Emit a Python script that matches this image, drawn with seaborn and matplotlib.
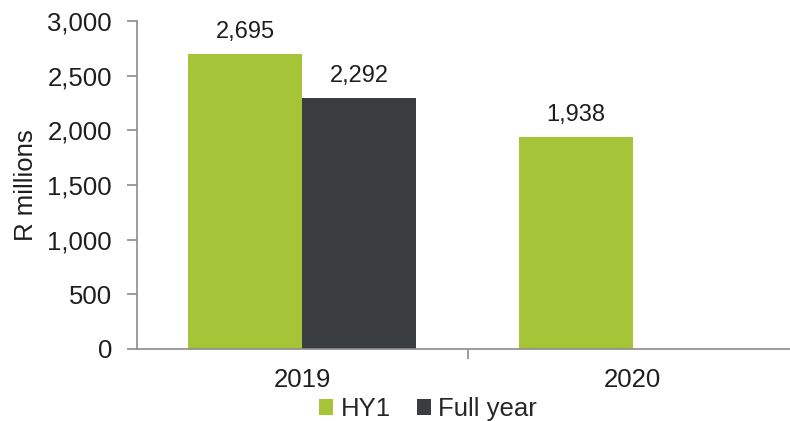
import matplotlib
matplotlib.use("Agg")
import matplotlib.pyplot as plt
import seaborn as sns
import pandas as pd
import numpy as np
from matplotlib.patches import Patch

years = ["2019", "2020"]
periods = ["HY1", "Full year"]
hy1_values = [2695, 1938]
full_year_values = [2292, np.nan]
y_ticks = [0, 500, 1000, 1500, 2000, 2500, 3000]

colors = {"HY1": "#A6C437", "Full year": "#3A3D40"}

df = pd.DataFrame({
    "year": years * 2,
    "period": ["HY1"] * len(years) + ["Full year"] * len(years),
    "value": hy1_values + full_year_values,
})

sns.set_style("white")
plt.rcParams["font.family"] = ["Liberation Sans", "DejaVu Sans"]

fig = plt.figure(figsize=(7.9, 4.21), dpi=100)
ax = fig.add_axes([137 / 790, (421 - 349) / 421, (798 - 137) / 790, (349 - 21) / 421])

sns.barplot(data=df, x="year", y="value", hue="period", hue_order=periods,
            palette=colors, width=0.69, saturation=1, linewidth=0, ax=ax, legend=False)

ax.set_xlim(-0.5, 1.5)
ax.set_ylim(0, 3000)
ax.set_yticks(y_ticks)
ax.set_yticklabels([f"{v:,}" for v in y_ticks], fontsize=18.5, color="#1E1E1E")
ax.set_xticks([0, 1])
ax.set_xticklabels(years, fontsize=18.5, color="#1E1E1E")
ax.tick_params(axis="x", length=0, pad=14)
ax.tick_params(axis="y", length=7, width=1.2, color="#8C8C8C", pad=11, left=True)
ax.set_xticks([0.5], minor=True)
ax.tick_params(axis="x", which="minor", length=7, width=1.2, color="#8C8C8C", bottom=True)
ax.set_ylabel("R millions", fontsize=18.5, color="#1E1E1E", labelpad=7)
ax.set_xlabel("")

for side in ["top", "right"]:
    ax.spines[side].set_visible(False)
for side in ["left", "bottom"]:
    ax.spines[side].set_color("#8C8C8C")
    ax.spines[side].set_linewidth(1.2)

for bar in ax.patches:
    h = bar.get_height()
    if np.isnan(h) or h == 0:
        continue
    ax.annotate(f"{h:,.0f}", (bar.get_x() + bar.get_width() / 2, h),
                xytext=(0, 8), textcoords="offset points",
                ha="center", va="bottom", fontsize=17, color="#1E1E1E")

handles = [Patch(facecolor=colors[p], edgecolor="none") for p in periods]
fig.legend(handles, periods, loc="center", bbox_to_anchor=(428 / 790, (421 - 409) / 421),
           ncol=2, frameon=False, fontsize=18.5, handlelength=0.55, handleheight=0.55,
           handletextpad=0.3, columnspacing=1.0, borderaxespad=0, borderpad=0)

fig.savefig("out.png", dpi=100)
